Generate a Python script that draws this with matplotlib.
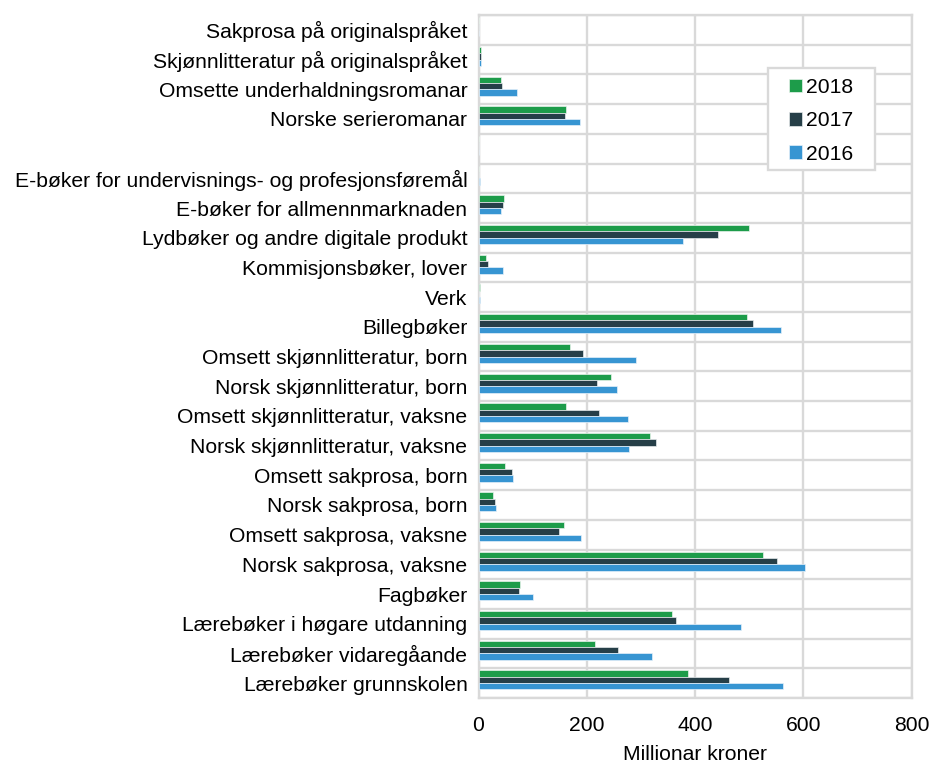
import matplotlib.pyplot as plt
from matplotlib.patches import Rectangle
import numpy as np

plt.rcParams['font.family'] = ['Liberation Sans', 'DejaVu Sans']

# Kategoriar, nedanfrå og opp ("" = tom rad i figuren)
kategoriar = [
    'Lærebøker grunnskolen',
    'Lærebøker vidaregåande',
    'Lærebøker i høgare utdanning',
    'Fagbøker',
    'Norsk sakprosa, vaksne',
    'Omsett sakprosa, vaksne',
    'Norsk sakprosa, born',
    'Omsett sakprosa, born',
    'Norsk skjønnlitteratur, vaksne',
    'Omsett skjønnlitteratur, vaksne',
    'Norsk skjønnlitteratur, born',
    'Omsett skjønnlitteratur, born',
    'Billegbøker',
    'Verk',
    'Kommisjonsbøker, lover',
    'Lydbøker og andre digitale produkt',
    'E-bøker for allmennmarknaden',
    'E-bøker for undervisnings- og profesjonsføremål',
    '',
    'Norske serieromanar',
    'Omsette underhaldningsromanar',
    'Skjønnlitteratur på originalspråket',
    'Sakprosa på originalspråket',
]

# Omsetnad i millionar kroner
v2018 = [386, 215, 358, 77, 526, 158, 27, 49, 317, 162, 244, 169, 495, 2, 13,
         499, 47, 1, 0, 162, 42, 4, 0]
v2017 = [462, 257, 365, 75, 552, 148, 30, 62, 327, 223, 219, 193, 506, 1, 17,
         443, 45, 1, 0, 160, 44, 5, 0]
v2016 = [562, 321, 485, 100, 603, 189, 32, 63, 277, 276, 256, 291, 559, 3, 45,
         377, 41, 3, 0, 188, 71, 5, 1]

farge_2018 = '#1d9c4a'
farge_2017 = '#263f48'
farge_2016 = '#3795d2'

y = np.arange(len(kategoriar))
h = 0.213
fs = 15.2

fig = plt.figure(figsize=(9.37, 7.63), dpi=100)
ax = fig.add_axes([0.5107, 0.0852, 0.4623, 0.8951])

ax.barh(y + 1.5 * h, v2018, height=h, color=farge_2018, label='2018',
        edgecolor='#e8f3ec', linewidth=0.5, zorder=3)
ax.barh(y + 0.5 * h, v2017, height=h, color=farge_2017, label='2017',
        edgecolor='#e6ebec', linewidth=0.5, zorder=3)
ax.barh(y - 0.5 * h, v2016, height=h, color=farge_2016, label='2016',
        edgecolor='#e6f1fa', linewidth=0.5, zorder=3)

ax.set_xlim(0, 800)
ax.set_ylim(-0.5, len(kategoriar) - 0.5)
ax.set_xticks([0, 200, 400, 600, 800])
ax.set_yticks(y)
ax.set_yticklabels(kategoriar)
ax.set_yticks(np.arange(-0.5, len(kategoriar), 1.0), minor=True)

gridfarge = '#d9d9d9'
ax.grid(axis='x', which='major', color=gridfarge, linewidth=1.7, zorder=0)
ax.grid(axis='y', which='minor', color=gridfarge, linewidth=1.7, zorder=0)
ax.tick_params(axis='both', which='both', length=0, labelsize=fs,
               colors='#000000')
ax.tick_params(axis='x', pad=13)
ax.tick_params(axis='y', pad=8)
for s in ax.spines.values():
    s.set_color(gridfarge)
    s.set_linewidth(1.7)
ax.set_axisbelow(True)

ax.set_xlabel('Millionar kroner', fontsize=fs, labelpad=7)

# forklaringsboks teikna for seg, legend utan ramme oppå
ax.add_patch(Rectangle((0.668, 0.773), 0.247, 0.149, transform=ax.transAxes,
                       facecolor='white', edgecolor=gridfarge, linewidth=1.7,
                       zorder=4))
leg = ax.legend(loc='upper left', bbox_to_anchor=(0.716, 0.908),
                borderaxespad=0, borderpad=0, fontsize=fs, frameon=False,
                handlelength=0.62, handleheight=0.62, handletextpad=0.2,
                labelspacing=0.68)
leg.set_zorder(5)

fig.savefig('out.png', dpi=100)
